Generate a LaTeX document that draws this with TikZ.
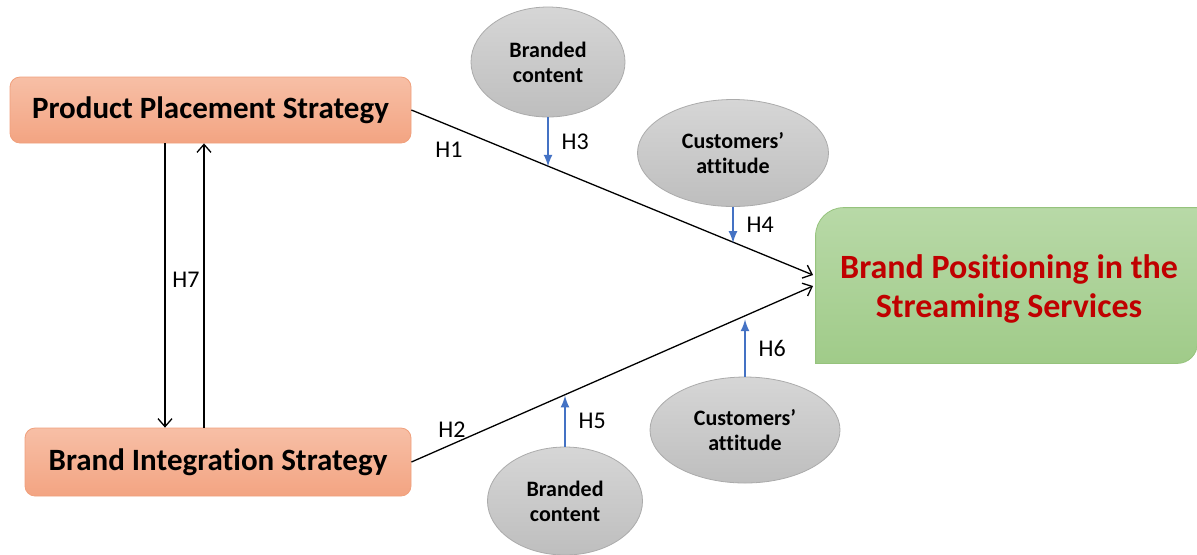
\documentclass[tikz,border=0pt]{standalone}
\usepackage{fontspec}
\setmainfont[Ligatures=NoCommon]{Carlito}
\usetikzlibrary{arrows,arrows.meta,shapes.geometric,calc}
\definecolor{O1}{RGB}{247, 191, 166}
\definecolor{O2}{RGB}{243, 164, 130}
\definecolor{OB}{RGB}{240, 160, 124}
\definecolor{G1}{RGB}{184, 217, 167}
\definecolor{G2}{RGB}{160, 203, 137}
\definecolor{GB}{RGB}{150, 195, 125}
\definecolor{E1}{RGB}{214, 214, 214}
\definecolor{E2}{RGB}{190, 190, 190}
\definecolor{BL}{RGB}{68, 114, 196}
\definecolor{RD}{RGB}{192, 0, 0}

\tikzset{
  strategy/.style={draw=OB, top color=O1, bottom color=O2, rounded corners=5pt,
    font=\fontsize{15.5}{17}\selectfont\bfseries, align=center},
  factor/.style={ellipse, draw=E2!90!black, top color=E1, bottom color=E2, align=center,
    font=\fontsize{11}{12.5}\selectfont\bfseries, inner sep=0pt},
  hyp/.style={black, line width=0.65pt, -{Straight Barb[length=4pt,width=7pt]}},
  moder/.style={BL, line width=1pt, -latex},
  hlabel/.style={text=black, font=\fontsize{12}{14}\selectfont}
}

\begin{document}
\begin{tikzpicture}[x=0.5pt, y=-0.5pt]
  \useasboundingbox (0,0) rectangle (1197,554);
  % strategies
  \node[strategy, minimum width=200.5pt, minimum height=33pt] (pps) at (210.5,110) {Product Placement Strategy};
  \node[strategy, minimum width=193pt, minimum height=34pt] (bis) at (218,462) {Brand Integration Strategy};
  % outcome
  \node[minimum width=190.5pt, minimum height=77.5pt] (bp) at (1006.5,285.5) {};
  \path[draw=GB, top color=G1, bottom color=G2] (bp.south west) -- ([yshift=-14pt]bp.north west)
    arc[start angle=180, end angle=90, radius=14pt] -- (bp.north east)
    -- ([yshift=10pt]bp.south east) arc[start angle=0, end angle=-90, radius=10pt] -- cycle;
  \node[text=RD, align=center, font=\fontsize{17}{19.5}\selectfont\bfseries] (bptext) at (1009,289)
    {Brand Positioning in the\\Streaming Services};
  % moderators
  \node[factor, minimum width=77pt, minimum height=55pt] (bc1) at (548,62) {Branded\\content};
  \node[factor, minimum width=95.5pt, minimum height=53.5pt] (ca1) at (733,153) {Customers'\\attitude};
  \node[factor, minimum width=95pt, minimum height=53pt] (ca2) at (745,430) {Customers'\\attitude};
  \node[factor, minimum width=77.5pt, minimum height=54pt] (bc2) at (565,501) {Branded\\content};
  % main paths
  \coordinate (h1end) at (813,275);
  \coordinate (h2end) at (813,286);
  \draw[hyp] (pps.east) -- (h1end);
  \draw[hyp] (bis.east) -- (h2end);
  \draw[hyp] (pps.south -| 165,0) -- (bis.north -| 165,0);
  \draw[hyp] (bis.north -| 204,0) -- (pps.south -| 204,0);
  \coordinate (h3end) at ($(pps.east)!0.342!(h1end)$);
  \coordinate (h4end) at ($(pps.east)!0.805!(h1end)$);
  \coordinate (h5end) at ($(bis.east)!0.377!(h2end)$);
  \coordinate (h6end) at ($(bis.east)!0.81!(h2end)$);
  \draw[moder] (bc1.south) -- (bc1.south |- h3end) node[hlabel, midway, right=3pt] (lh3) {H3};
  \draw[moder] (ca1.south) -- (ca1.south |- h4end) node[hlabel, midway, right=3pt] (lh4) {H4};
  \draw[moder] (bc2.north) -- (bc2.north |- h5end) node[hlabel, midway, right=3pt] (lh5) {H5};
  \draw[moder] (ca2.north) -- (ca2.north |- h6end) node[hlabel, midway, right=3pt] (lh6) {H6};
  % labels
  \node[hlabel] (lh1) at (449,150) {H1};
  \node[hlabel] (lh2) at (452,430) {H2};
  \node[hlabel] (lh7) at (186,280) {H7};
\end{tikzpicture}
\end{document}
